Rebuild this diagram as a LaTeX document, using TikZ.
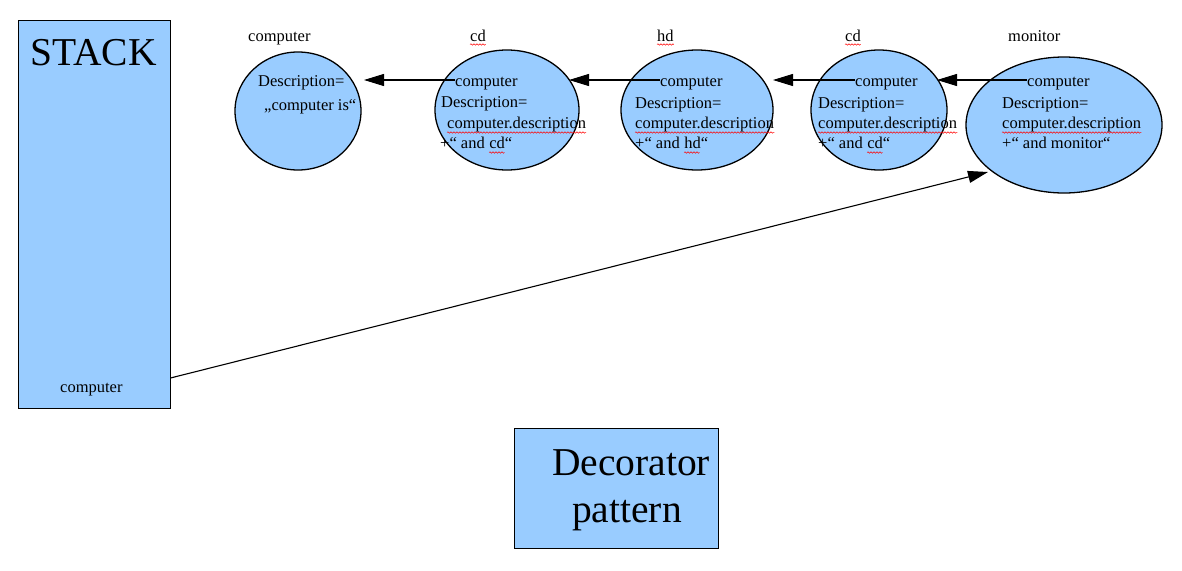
\documentclass[tikz,border=0pt]{standalone}
\usepackage{fontspec}
\setmainfont{Liberation Serif}
\usetikzlibrary{arrows.meta,shapes.geometric,decorations.pathmorphing}
\definecolor{boxblue}{HTML}{99CCFF}
\tikzset{
  blob/.style={ellipse, draw=black, line width=1.3pt, fill=boxblue, inner sep=0pt},
  panel/.style={rectangle, draw=black, line width=1pt, fill=boxblue, inner sep=0pt},
  txt/.style={anchor=base west, inner sep=0pt, font=\fontsize{16.5}{20}\selectfont},
  big/.style={anchor=base west, inner sep=0pt, font=\fontsize{39.5}{47}\selectfont},
  arr/.style={line width=1.1pt, -{Triangle[length=20pt,width=12pt]}},
  wave/.style={draw=red, line width=0.5pt, decorate, decoration={snake, amplitude=0.7pt, segment length=3pt}}
}
\begin{document}
\begin{tikzpicture}[x=1pt,y=-1pt]
\useasboundingbox (0,0) rectangle (1182,570);
% panels
\node[panel, minimum width=152pt, minimum height=388pt] (stack) at (94,214) {};
\node[big] (stacklbl) at (30,65) {STACK};
\node[txt] (stackcomp) at (60,392) {computer};
\node[panel, minimum width=204pt, minimum height=120pt] (deco) at (616,488) {};
\node[big] (deco1) at (552,475) {Decorator};
\node[big] (deco2) at (572,522) {pattern};
% ellipses
\node[blob, minimum width=126pt, minimum height=118pt] (e1) at (298,111) {};
\node[blob, minimum width=144pt, minimum height=120pt] (e2) at (507,110) {};
\node[blob, minimum width=152pt, minimum height=120pt] (e3) at (697,110) {};
\node[blob, minimum width=136pt, minimum height=120pt] (e4) at (879,110) {};
\node[blob, minimum width=196pt, minimum height=136pt] (e5) at (1064,125) {};
% top labels
\node[txt] (l1) at (248,41) {computer};
\node[txt] (l2) at (470,41) {cd};
\node[txt] (l3) at (657,41) {hd};
\node[txt] (l4) at (845,41) {cd};
\node[txt] (l5) at (1008,41) {monitor};
% e1 text
\node[txt] (d1a) at (258,86) {Description=};
\node[txt] (d1b) at (264,110) {„computer is“};
% e2 text
\node[txt] (h2) at (455,86) {computer};
\node[txt] (d2a) at (441,107) {Description=};
\node[txt] (d2b) at (447,128) {computer.description};
\node[txt] (d2c) at (440,148) {+“ and};
\node[txt] (w2) at ([xshift=4.1pt]d2c.base east) {cd“};
% e3 text
\node[txt] (h3) at (660,86) {computer};
\node[txt] (d3a) at (635,108) {Description=};
\node[txt] (d3b) at (635,128) {computer.description};
\node[txt] (d3c) at (635,148) {+“ and};
\node[txt] (w3) at ([xshift=4.1pt]d3c.base east) {hd“};
% e4 text
\node[txt] (h4) at (855,86) {computer};
\node[txt] (d4a) at (818,108) {Description=};
\node[txt] (d4b) at (818,128) {computer.description};
\node[txt] (d4c) at (818,148) {+“ and};
\node[txt] (w4) at ([xshift=4.1pt]d4c.base east) {cd“};
% e5 text
\node[txt] (h5) at (1027,86) {computer};
\node[txt] (d5a) at (1002,108) {Description=};
\node[txt] (d5b) at (1002,128) {computer.description};
\node[txt] (d5c) at (1002,148) {+“ and monitor“};
% spell-check squiggles
\foreach \n in {l2,l3,l4} \draw[wave] ([yshift=-3.5pt]\n.base west) -- ([yshift=-3.5pt]\n.base east);
\foreach \n in {d2b,d3b,d4b,d5b} \draw[wave] ([yshift=-4.5pt]\n.base west) -- ([yshift=-4.5pt]\n.base east);
\foreach \n in {w2,w3,w4} \draw[wave] ([yshift=-4.5pt]\n.base west) -- ([xshift=15.6pt,yshift=-4.5pt]\n.base west);
% arrow tips
\coordinate (t1) at (364,80);
\coordinate (t2) at (569,80);
\coordinate (t3) at (773,80);
\coordinate (t4) at (937,80);
\coordinate (t5) at (988,172);
\draw[arr] (h2.west |- t1) -- (t1);
\draw[arr] (h3.west |- t2) -- (t2);
\draw[arr] (h4.west |- t3) -- (t3);
\draw[arr] (h5.west |- t4) -- (t4);
\draw[arr] ([yshift=-164pt]stack.east) -- (t5);
\end{tikzpicture}
\end{document}
